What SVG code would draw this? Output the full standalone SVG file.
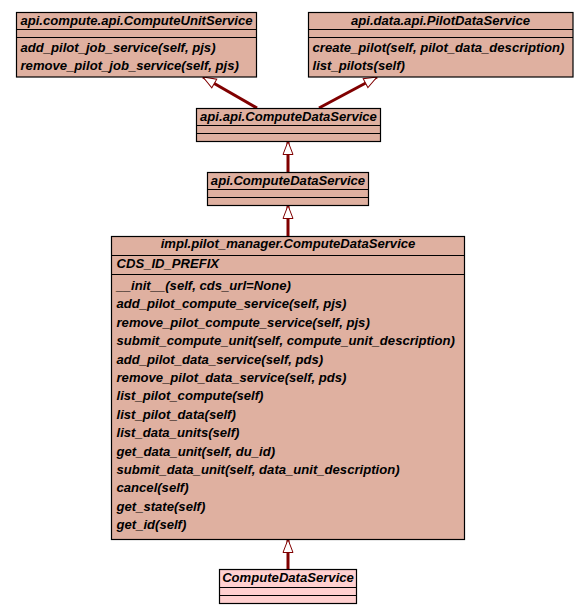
<svg xmlns="http://www.w3.org/2000/svg" width="588" height="613" viewBox="0 0 588 613">
<style>
.box{fill:#DFB0A0;stroke:#000;stroke-width:1.2}
.box2{fill:#FFD0D0;stroke:#000;stroke-width:1.2}
.sep{stroke:#000;stroke-width:1.2}
text{font-family:"Liberation Sans",Arial,sans-serif;font-size:13.1px;font-weight:bold;font-style:italic;fill:#000}
.c{text-anchor:middle}
.edge{stroke:#800000;stroke-width:3;fill:none}
</style>
<defs>
<marker id="tri" markerUnits="userSpaceOnUse" markerWidth="16" markerHeight="14" refX="14" refY="6" orient="auto" viewBox="0 0 16 12">
<path d="M14,6 L1,1 L1,11 Z" fill="#fff" stroke="#800000" stroke-width="1"/>
</marker>
</defs>
<rect width="588" height="613" fill="#fff"/>
<g id="connectors">
<line class="edge" x1="257" y1="108" x2="203" y2="77" marker-end="url(#tri)"/>
<line class="edge" x1="319" y1="108" x2="377" y2="77" marker-end="url(#tri)"/>
<line class="edge" x1="288" y1="172" x2="288" y2="141.5" marker-end="url(#tri)"/>
<line class="edge" x1="288" y1="236" x2="288" y2="205.5" marker-end="url(#tri)"/>
<line class="edge" x1="288" y1="569" x2="288" y2="539.5" marker-end="url(#tri)"/>
</g>
<g id="ComputeUnitService">
<rect class="box" x="16.5" y="12.5" width="240" height="64.5"/>
<line class="sep" x1="16.5" y1="29.5" x2="256.5" y2="29.5"/>
<line class="sep" x1="16.5" y1="37.5" x2="256.5" y2="37.5"/>
<text class="c" x="136.5" y="25">api.compute.api.ComputeUnitService</text>
<text x="20.5" y="52">add_pilot_job_service(self, pjs)</text>
<text x="20.5" y="70">remove_pilot_job_service(self, pjs)</text>
</g>
<g id="PilotDataService">
<rect class="box" x="308.5" y="12.5" width="264.5" height="64.5"/>
<line class="sep" x1="308.5" y1="29.5" x2="573" y2="29.5"/>
<line class="sep" x1="308.5" y1="37.5" x2="573" y2="37.5"/>
<text class="c" x="440.5" y="25">api.data.api.PilotDataService</text>
<text x="312.5" y="52">create_pilot(self, pilot_data_description)</text>
<text x="312.5" y="70">list_pilots(self)</text>
</g>
<g id="ApiApiComputeDataService">
<rect class="box" x="196.5" y="108.5" width="184" height="33"/>
<line class="sep" x1="196.5" y1="125.5" x2="380.5" y2="125.5"/>
<line class="sep" x1="196.5" y1="133.5" x2="380.5" y2="133.5"/>
<text class="c" x="288.5" y="121">api.api.ComputeDataService</text>
</g>
<g id="ApiComputeDataService">
<rect class="box" x="207.5" y="172.5" width="161" height="33"/>
<line class="sep" x1="207.5" y1="189.5" x2="368.5" y2="189.5"/>
<line class="sep" x1="207.5" y1="197.5" x2="368.5" y2="197.5"/>
<text class="c" x="288" y="185">api.ComputeDataService</text>
</g>
<g id="ImplComputeDataService">
<rect class="box" x="111.5" y="236.5" width="353" height="303"/>
<line class="sep" x1="111.5" y1="255.5" x2="464.5" y2="255.5"/>
<line class="sep" x1="111.5" y1="274.5" x2="464.5" y2="274.5"/>
<text class="c" x="288" y="248">impl.pilot_manager.ComputeDataService</text>
<text x="116.5" y="268">CDS_ID_PREFIX</text>
<text x="116.5" y="290">__init__(self, cds_url=None)</text>
<text x="116.5" y="308.4">add_pilot_compute_service(self, pjs)</text>
<text x="116.5" y="326.8">remove_pilot_compute_service(self, pjs)</text>
<text x="116.5" y="345.2">submit_compute_unit(self, compute_unit_description)</text>
<text x="116.5" y="363.6">add_pilot_data_service(self, pds)</text>
<text x="116.5" y="382">remove_pilot_data_service(self, pds)</text>
<text x="116.5" y="400.4">list_pilot_compute(self)</text>
<text x="116.5" y="418.8">list_pilot_data(self)</text>
<text x="116.5" y="437.2">list_data_units(self)</text>
<text x="116.5" y="455.6">get_data_unit(self, du_id)</text>
<text x="116.5" y="474">submit_data_unit(self, data_unit_description)</text>
<text x="116.5" y="492.4">cancel(self)</text>
<text x="116.5" y="510.8">get_state(self)</text>
<text x="116.5" y="529.2">get_id(self)</text>
</g>
<g id="ComputeDataService">
<rect class="box2" x="219.5" y="569.5" width="137" height="34"/>
<line class="sep" x1="219.5" y1="587.5" x2="356.5" y2="587.5"/>
<line class="sep" x1="219.5" y1="595.5" x2="356.5" y2="595.5"/>
<text class="c" x="288" y="582">ComputeDataService</text>
</g>
</svg>
